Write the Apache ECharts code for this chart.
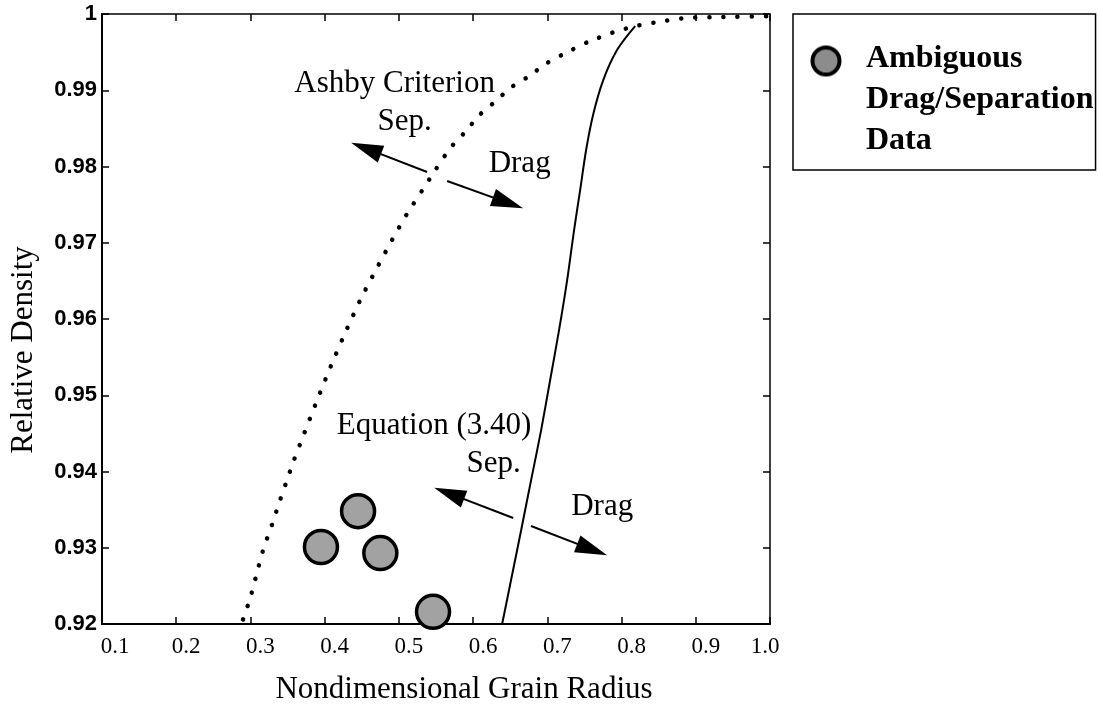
<!DOCTYPE html>
<html><head><meta charset="utf-8">
<script src="https://cdn.jsdelivr.net/npm/echarts@6/dist/echarts.min.js"></script>
<style>html,body{margin:0;padding:0;background:#fff}#c{width:1098px;height:704px}</style>
</head><body><div id="c"></div>
<script>
// ---- data ----
const ashbyCurve = [
  [0.290,0.9206],[0.300,0.9235],[0.309,0.9268],[0.318,0.9300],[0.329,0.9330],[0.339,0.9360],
  [0.349,0.9388],[0.359,0.9416],[0.370,0.9444],[0.390,0.9494],[0.410,0.9542],[0.430,0.9587],
  [0.450,0.9629],[0.471,0.9668],[0.491,0.9704],[0.511,0.9738],[0.531,0.9768],[0.549,0.9795],
  [0.569,0.9824],[0.589,0.9845],[0.609,0.9868],[0.632,0.9887],[0.650,0.9903],[0.673,0.9917],
  [0.700,0.9936],[0.727,0.9950],[0.754,0.9963],[0.789,0.9976],[0.818,0.9984],[0.852,0.9990],
  [0.888,0.9995],[0.929,0.9996],[1.000,0.9997]
];
const equationCurve = [
  [0.6391,0.9200],[0.6512,0.9258],[0.6647,0.9323],[0.6782,0.9389],[0.6916,0.9454],
  [0.7038,0.9520],[0.7159,0.9586],[0.7267,0.9651],[0.7361,0.9717],[0.7442,0.9769],
  [0.7523,0.9822],[0.7617,0.9868],[0.7752,0.9913],[0.7941,0.9953],[0.8183,0.9984]
];
const ambiguousX = [0.445, 0.395, 0.475, 0.546];
const ambiguousY = [0.9348, 0.9301, 0.9293, 0.9216];
const legendLines = ['Ambiguous', 'Drag/Separation', 'Data'];
const annotationText = ['Ashby Criterion', 'Sep.', 'Drag', 'Equation (3.40)', 'Sep.', 'Drag'];
const annotationX = [0.4942, 0.5077, 0.6627, 0.5474, 0.6276, 0.7739];
const annotationY = [0.99082, 0.98584, 0.98033, 0.94597, 0.94098, 0.93534];
const arrowFromX = [0.538, 0.565, 0.654, 0.678];
const arrowFromY = [0.97928, 0.97810, 0.93390, 0.93285];
const arrowToX = [0.4558, 0.647, 0.5677, 0.7604];
const arrowToY = [0.98237, 0.97523, 0.93713, 0.92976];
const xMin = 0.1, xMax = 1.0, xStep = 0.1;
const yMin = 0.92, yMax = 1.0, yStep = 0.01;

// ---- styling helpers ----
function legendIcon() {
  const c = document.createElement('canvas'); c.width = 54; c.height = 123;
  const g = c.getContext('2d');
  g.beginPath(); g.arc(19, 22.5, 13.5, 0, Math.PI * 2);
  g.fillStyle = '#8c8c8c'; g.fill();
  g.lineWidth = 4; g.strokeStyle = '#000'; g.stroke();
  return 'image://' + c.toDataURL();
}

const serif = '"Liberation Serif","Times New Roman",Times,serif';
const sans = '"Liberation Sans",Arial,Helvetica,sans-serif';

const chart = echarts.init(document.getElementById('c'), null, {renderer: 'canvas'});
const axisLineStyle = {color: '#000', width: 2};
const option = {
  animation: false,
  backgroundColor: '#fff',
  grid: {left: 102, right: 328, top: 14, bottom: 80, containLabel: false, outerBoundsMode: 'none'},
  legend: {
    show: true, selectedMode: false,
    left: 793, top: 14, orient: 'vertical',
    padding: [24.5, 2, 8.5, 14],
    borderColor: '#000', borderWidth: 1.5,
    itemWidth: 54, itemHeight: 123,
    data: [{name: 'Ambiguous', icon: legendIcon()}],
    formatter: () => legendLines.join('\n'),
    textStyle: {fontFamily: serif, fontSize: 32, fontWeight: 'bold', color: '#000', lineHeight: 41}
  },
  xAxis: [{
    type: 'value', min: xMin, max: xMax, interval: xStep, position: 'bottom',
    name: 'Nondimensional Grain Radius', nameLocation: 'middle', nameGap: 50,
    nameTextStyle: {fontFamily: serif, fontSize: 31, color: '#000', padding: [0, 0, 0, 56]},
    axisLine: {show: true, lineStyle: axisLineStyle},
    axisTick: {show: true, inside: true, length: 7, lineStyle: {color: '#000', width: 1.5}},
    splitLine: {show: false},
    axisLabel: {
      margin: 11, showMinLabel: true, showMaxLabel: true,
      formatter: v => {
        const s = v.toFixed(1);
        if (s === '0.1') return '{f|' + s + '}';
        if (s === '1.0') return '{e|' + s + '}';
        return '{n|' + s + '}';
      },
      rich: {
        n: {fontFamily: serif, fontSize: 23, color: '#000', padding: [0, 0, 0, 20]},
        f: {fontFamily: serif, fontSize: 23, color: '#000', padding: [0, 0, 0, 26]},
        e: {fontFamily: serif, fontSize: 23, color: '#000', padding: [0, 10, 0, 0]}
      }
    }
  }, {
    type: 'value', min: xMin, max: xMax, interval: xStep, position: 'top',
    axisLine: {show: true, lineStyle: {color: '#000', width: 1.5}},
    axisTick: {show: true, inside: true, length: 7, lineStyle: {color: '#000', width: 1.5}},
    axisLabel: {show: false}, splitLine: {show: false}
  }],
  yAxis: [{
    type: 'value', min: yMin, max: yMax, interval: yStep, position: 'left',
    name: 'Relative Density', nameLocation: 'middle', nameGap: 63, nameRotate: 90,
    nameTextStyle: {fontFamily: serif, fontSize: 31, color: '#000', padding: [0, 62, 0, 0]},
    axisLine: {show: true, lineStyle: axisLineStyle},
    axisTick: {show: true, inside: true, length: 7, lineStyle: {color: '#000', width: 1.5}},
    splitLine: {show: false},
    axisLabel: {
      margin: 5, showMinLabel: true, showMaxLabel: true,
      fontFamily: sans, fontSize: 22, fontWeight: 'bold', color: '#000',
      formatter: v => Math.abs(v - 1) < 1e-9 ? '1' : v.toFixed(2)
    }
  }, {
    type: 'value', min: yMin, max: yMax, interval: yStep, position: 'right',
    axisLine: {show: true, lineStyle: {color: '#000', width: 1.5}},
    axisTick: {show: true, inside: true, length: 7, lineStyle: {color: '#000', width: 1.5}},
    axisLabel: {show: false}, splitLine: {show: false}
  }],
  series: [
    {
      name: 'Ashby Criterion', type: 'line', xAxisIndex: 0, yAxisIndex: 0,
      data: ashbyCurve, showSymbol: false, smooth: 0.2, silent: true,
      lineStyle: {color: '#000', width: 4.5, type: [0.1, 14], cap: 'round'}
    },
    {
      name: 'Equation (3.40)', type: 'line', xAxisIndex: 0, yAxisIndex: 0,
      data: equationCurve, showSymbol: false, smooth: 0.3, silent: true,
      lineStyle: {color: '#000', width: 2}
    },
    {
      name: 'Ambiguous', type: 'scatter', xAxisIndex: 0, yAxisIndex: 0,
      data: ambiguousX.map((x, i) => [x, ambiguousY[i]]),
      symbol: 'circle', symbolSize: 33,
      itemStyle: {color: '#a2a2a2', borderColor: '#000', borderWidth: 3.5, opacity: 1},
      z: 5
    },
    {
      name: 'annotations', type: 'scatter', xAxisIndex: 0, yAxisIndex: 0, silent: true,
      symbolSize: 0, itemStyle: {color: '#000', opacity: 1},
      data: annotationText.map((t, i) => ({name: t, value: [annotationX[i], annotationY[i]]})),
      label: {show: true, position: 'inside', formatter: '{b}', fontFamily: serif, fontSize: 31,
              color: '#000', textBorderWidth: 0, opacity: 1},
      markLine: {
        silent: true, animation: false,
        label: {show: false},
        lineStyle: {color: '#000', width: 2, type: 'solid'},
        data: arrowFromX.map((x, i) => [
          {coord: [x, arrowFromY[i]], symbol: 'none'},
          {coord: [arrowToX[i], arrowToY[i]], symbol: 'triangle', symbolSize: [18, 32]}
        ])
      }
    }
  ]
};
chart.setOption(option);
</script>
</body></html>
